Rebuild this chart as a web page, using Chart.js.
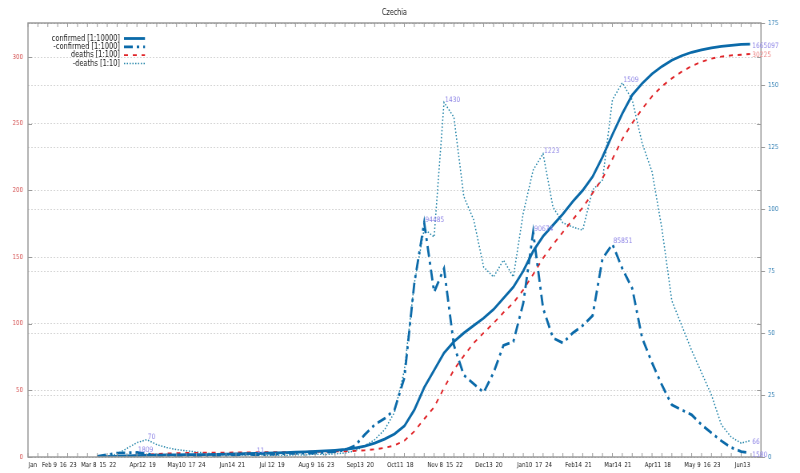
<!DOCTYPE html>
<html>
<head>
<meta charset="utf-8">
<script src="https://cdn.jsdelivr.net/npm/chart.js@4/dist/chart.umd.min.js"></script>
<style>
  html, body { margin: 0; padding: 0; background: #fff; overflow: hidden; }
  /* the chart is laid out wider and squeezed, like the original resized plot */
  #wrap { width: 1000px; height: 473px; position: relative; transform: scaleX(0.8); transform-origin: 0 0; }
</style>
</head>
<body>
<div id="wrap"><canvas id="chart"></canvas></div>
<script>
const SX = 0.8; // horizontal squeeze of #wrap

// week index, 0 = Sun Jan 26 2020 (last point is a partial week)
const WEEKS = [7, 8, 9, 10, 11, 12, 13, 14, 15, 16, 17, 18, 19, 20, 21, 22, 23, 24, 25, 26, 27, 28, 29, 30,
  31, 32, 33, 34, 35, 36, 37, 38, 39, 40, 41, 42, 43, 44, 45, 46, 47, 48, 49, 50, 51, 52, 53, 54, 55, 56,
  57, 58, 59, 60, 61, 62, 63, 64, 65, 66, 67, 68, 69, 70, 71, 72, 72.9];

// confirmed [1:10000] (cumulative)
const CONFIRMED = [0.03, 0.1, 0.25, 0.4, 0.58, 0.69, 0.76, 0.81, 0.85, 0.9, 0.94, 0.99, 1.05, 1.12, 1.2, 1.32,
  1.41, 1.51, 1.63, 1.77, 1.92, 2.08, 2.24, 2.43, 2.7, 3.05, 3.6, 4.4, 5.6, 7.2, 9.3, 12.5, 19, 28, 35, 42,
  46.5, 50, 53, 56, 59.5, 64, 68.5, 75, 83, 89, 93.5, 98, 103, 107.5, 113, 121, 130, 138.5, 146, 150.6,
  154.5, 157.5, 160, 161.8, 163.2, 164.2, 165, 165.6, 166, 166.35, 166.51];

// -confirmed [1:1000] (weekly new)
const NEW_CONFIRMED = [0.25, 0.9, 1.6, 1.7, 1.809, 1.2, 0.7, 0.55, 0.45, 0.5, 0.45, 0.55, 0.6, 0.7, 0.8, 1.2,
  0.9, 1.0, 1.2, 1.4, 1.5, 1.6, 1.6, 1.9, 2.2, 2.8, 4.5, 9, 13, 15.5, 19, 32, 70, 94.485, 66.5, 76,
  45, 33, 29.5, 26, 34, 45, 46.5, 62, 90.674, 60, 48, 46, 50, 53, 57, 80, 85.851, 76, 68, 48,
  38, 29, 21, 19, 17, 13, 9.7, 6.5, 3.8, 2.2, 1.58];

// deaths [1:100] (cumulative)
const DEATHS = [0, 0.05, 0.15, 0.5, 1.1, 1.8, 2.3, 2.6, 2.85, 3.0, 3.1, 3.2, 3.25, 3.3, 3.35, 3.42,
  3.5, 3.55, 3.62, 3.68, 3.77, 3.85, 3.97, 4.07, 4.2, 4.36, 4.6, 5.05, 5.75, 6.85, 8.65, 12.2, 19.2, 28.5, 37.4, 51.7,
  65.4, 75.9, 85.5, 93.1, 100.4, 108.3, 115.6, 125.4, 137, 149.2, 159.3, 168.7, 178, 187.1, 197.9, 209, 223.4, 238.5, 250.5, 261,
  270.5, 278, 284, 289, 293.2, 296.4, 298.8, 300.3, 301.2, 301.7, 302.25];

// -deaths [1:10] (weekly new)
const NEW_DEATHS = [0, 0.3, 1.2, 3.5, 5.8, 7.0, 5.0, 3.8, 3.0, 2.5, 2.0, 1.6, 1.0, 0.8, 0.7, 0.8,
  1.1, 0.6, 0.7, 0.6, 0.9, 0.8, 1.2, 1.0, 1.3, 1.6, 2.5, 4.5, 7, 11, 18, 35, 70, 92, 88.7, 143,
  137, 105, 95.6, 76.6, 72.6, 79.4, 72.6, 98.4, 115.7, 122.3, 100.8, 94.4, 92.7, 91.5, 107.7, 111.7, 144, 150.9, 144, 126.6,
  115, 92, 63, 53, 43, 34, 25, 13, 8, 5.6, 6.6];

const SERIES_NAMES = ['confirmed [1:10000]', '-confirmed [1:1000]', 'deaths [1:100]', '-deaths [1:10]'];

// x tick labels (week index -> text)
const LABEL_WEEKS = [0, 2, 3, 4, 6, 7, 8, 11, 12, 15, 16, 17, 20, 21, 24, 25, 28, 29, 30, 33, 34, 37, 38,
  41, 42, 43, 46, 47, 50, 51, 52, 55, 56, 59, 60, 63, 64, 67, 68, 69, 72];
const LABEL_TEXT = ['Jan', 'Feb 9', '16', '23', 'Mar 8', '15', '22', 'Apr12', '19', 'May10', '17', '24', 'Jun14', '21',
  'Jul 12', '19', 'Aug 9', '16', '23', 'Sep13', '20', 'Oct11', '18', 'Nov 8', '15', '22', 'Dec13', '20',
  'Jan10', '17', '24', 'Feb14', '21', 'Mar14', '21', 'Apr11', '18', 'May 9', '16', '23', 'Jun13'];

// value labels: [series, point index, text]
const NOTES = [
  [3, 5, '70'], [1, 4, '1809'], [3, 16, '11'], [1, 33, '94485'], [3, 35, '1430'], [1, 44, '90674'],
  [3, 45, '1223'], [1, 52, '85851'], [3, 53, '1509']
];
const END_NOTES = [[0, '1665097'], [2, '30225'], [3, '66'], [1, '1580']];

const FONT = "'DejaVu Sans', sans-serif";
const BLUE = '#0b6aa9';
const RED = '#e0262a';
const TEAL = '#2686aa';
const NOTE = '#8f86e6';

function pts(arr) {
  return WEEKS.map((w, i) => ({ x: w, y: arr[i] }));
}

const frame = {
  id: 'frame',
  afterDatasetsDraw(chart) {
    const { ctx, chartArea: a, scales } = chart;
    ctx.save();
    ctx.strokeStyle = '#9a9a9a';
    ctx.lineWidth = 1;
    ctx.beginPath();
    scales.x.ticks.forEach((t) => {
      const px = scales.x.getPixelForValue(t.value);
      ctx.moveTo(px, a.bottom); ctx.lineTo(px, a.bottom - 4);
      ctx.moveTo(px, a.top); ctx.lineTo(px, a.top + 4);
    });
    scales.y.ticks.forEach((t) => {
      if (t.value % 50 !== 0) return;
      const py = Math.round(scales.y.getPixelForValue(t.value)) + 0.5;
      ctx.moveTo(a.left, py); ctx.lineTo(a.left + 4 / SX, py);
      ctx.moveTo(a.right, py); ctx.lineTo(a.right - 4 / SX, py);
    });
    scales.y2.ticks.forEach((t) => {
      const py = Math.round(scales.y2.getPixelForValue(t.value)) + 0.5;
      ctx.moveTo(a.right, py); ctx.lineTo(a.right + 4 / SX, py);
    });
    ctx.stroke();
    ctx.lineWidth = 1.5;
    ctx.strokeRect(a.left, a.top, a.right - a.left, a.bottom - a.top);

    // value labels
    ctx.font = '7.5px ' + FONT;
    ctx.textAlign = 'left';
    ctx.textBaseline = 'bottom';
    ctx.fillStyle = NOTE;
    NOTES.forEach(([s, i, txt]) => {
      const el = chart.getDatasetMeta(s).data[i];
      ctx.fillText(txt, el.x + 1 / SX, el.y + 1);
    });
    ctx.textBaseline = 'middle';
    END_NOTES.forEach(([s, txt]) => {
      const data = chart.getDatasetMeta(s).data;
      const el = data[data.length - 1];
      ctx.fillStyle = s === 2 ? '#ee8a8a' : NOTE;
      ctx.fillText(txt, el.x + 2 / SX, el.y + 1.5);
    });

    // title
    ctx.fillStyle = '#222';
    ctx.font = '8px ' + FONT;
    ctx.textAlign = 'center';
    ctx.fillText('Czechia', (a.left + a.right) / 2, 12.5);

    // legend
    ctx.font = '8.3px ' + FONT;
    ctx.textAlign = 'right';
    chart.data.datasets.forEach((ds, i) => {
      const y = 38.5 + i * 8.3;
      ctx.fillStyle = '#222';
      ctx.fillText(ds.label, 120 / SX, y);
      ctx.strokeStyle = ds.borderColor;
      ctx.lineWidth = ds.borderWidth;
      ctx.setLineDash(ds.borderDash || []);
      ctx.beginPath();
      ctx.moveTo(124 / SX, y); ctx.lineTo(145 / SX, y);
      ctx.stroke();
    });
    ctx.restore();
  }
};

const gridStyle = { color: 'rgba(0,0,0,0.16)', lineWidth: 1, drawTicks: false };

new Chart(document.getElementById('chart'), {
  type: 'line',
  data: {
    datasets: [
      { label: SERIES_NAMES[0], data: pts(CONFIRMED), yAxisID: 'y2', borderColor: BLUE, borderWidth: 2.8 },
      { label: SERIES_NAMES[1], data: pts(NEW_CONFIRMED), yAxisID: 'y2', borderColor: BLUE, borderWidth: 2.8, borderDash: [11, 5, 3, 5] },
      { label: SERIES_NAMES[2], data: pts(DEATHS), yAxisID: 'y', borderColor: RED, borderWidth: 1.9, borderDash: [5, 6] },
      { label: SERIES_NAMES[3], data: pts(NEW_DEATHS), yAxisID: 'y2', borderColor: TEAL, borderWidth: 1.5, borderDash: [1.5, 2] }
    ]
  },
  options: {
    responsive: true,
    maintainAspectRatio: false,
    animation: false,
    layout: { padding: { top: 23, left: 0, right: 0, bottom: 0 } },
    elements: { point: { radius: 0 }, line: { tension: 0, fill: false } },
    plugins: { legend: { display: false }, title: { display: false }, tooltip: { enabled: false } },
    scales: {
      x: {
        type: 'linear', min: 0, max: 74,
        afterFit: (s) => { s.height = 16; },
        grid: { display: false, drawTicks: false },
        border: { display: false },
        ticks: {
          stepSize: 1, autoSkip: false, maxRotation: 0, minRotation: 0, padding: 4,
          align: 'end', labelOffset: 9 / SX,
          color: '#222', font: { size: 6.8, family: FONT },
          callback: (v) => {
            const k = LABEL_WEEKS.indexOf(v);
            return k >= 0 ? LABEL_TEXT[k] : '';
          }
        }
      },
      y: {
        position: 'left', min: 0, max: 325.5,
        afterFit: (s) => { s.width = 28 / SX; },
        grid: gridStyle,
        border: { display: false, dash: [2, 2] },
        ticks: {
          stepSize: 50, padding: 5 / SX, color: '#d45050', font: { size: 6.8, family: FONT },
          callback: (v) => (v % 50 === 0 ? v : '')
        }
      },
      y2: {
        position: 'right', min: 0, max: 175,
        afterFit: (s) => { s.width = 39 / SX; },
        grid: gridStyle,
        border: { display: false, dash: [2, 2] },
        ticks: { stepSize: 25, padding: 7 / SX, color: '#2f7eb3', font: { size: 6.8, family: FONT } }
      }
    }
  },
  plugins: [frame]
});
</script>
</body>
</html>
